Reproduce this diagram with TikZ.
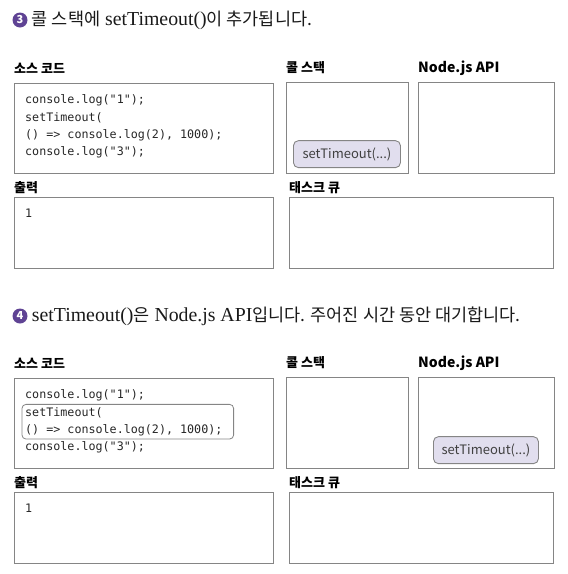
\documentclass[tikz,border=0pt]{standalone}
\usepackage{fontspec}
\usetikzlibrary{positioning}
\newfontfamily\kr{Noto Sans CJK KR}
\newfontfamily\codefont{DejaVu Sans Mono}
\newfontfamily\headserif{Liberation Serif}
\definecolor{boxgray}{HTML}{858585}
\definecolor{pillfill}{HTML}{E1DEEE}
\definecolor{numpurple}{HTML}{5F4394}
\newcommand{\kor}[1]{{\kr\fontsize{17.5}{20}\selectfont #1}}

\begin{document}
\begin{tikzpicture}[x=1pt, y=-1pt]
    \tikzstyle{panel}=[draw=boxgray, line width=1.1pt, rectangle, inner sep=0pt, anchor=north west]
    \tikzstyle{lbl}=[font=\kr\bfseries\fontsize{13}{15}\selectfont, inner sep=0pt, anchor=base west]
    \tikzstyle{lbllatin}=[lbl, font=\kr\bfseries\fontsize{14}{15}\selectfont]
    \tikzstyle{code}=[font=\codefont\fontsize{11.7}{14}\selectfont, text=black!85, inner sep=0pt, anchor=west]
    \tikzstyle{pill}=[draw=boxgray, fill=pillfill, line width=0.9pt, rounded corners=5pt, minimum height=27pt, inner sep=0pt, anchor=south west, font=\kr\fontsize{13}{15}\selectfont, text=black!75]
    \tikzstyle{num}=[circle, fill=numpurple, text=white, inner sep=0pt, minimum size=15pt, font=\kr\bfseries\fontsize{11}{11}\selectfont]
    \tikzstyle{heading}=[inner sep=0pt, anchor=west, font=\headserif\fontsize{19.8}{22}\selectfont, text=black!90]
    \tikzstyle{hilite}=[draw=boxgray, line width=0.8pt, rounded corners=4pt]

    \useasboundingbox (0,0) rectangle (568,574);

    % headings
    \node[num] (num1) at (20,20) {3};
    \node[heading, right=4pt of num1] (head1) {\kor{콜 스택에} setTimeout()\kor{이 추가됩니다.}};
    \node[num] (num2) at (20,316) {4};
    \node[heading, right=4pt of num2] (head2) {setTimeout()\kor{은} Node.js API\kor{입니다. 주어진 시간 동안 대기합니다.}};

    % panels of both steps
    \foreach \s in {1,2} {
        \begin{scope}[yshift={-295pt*(\s-1)}]
            \node[panel, minimum width=259pt, minimum height=90pt] (src\s) at (14,83) {};
            \node[panel, minimum width=122pt, minimum height=91pt] (stack\s) at (286,82) {};
            \node[panel, minimum width=136pt, minimum height=91pt] (api\s) at (418,82) {};
            \node[panel, minimum width=259pt, minimum height=71pt] (out\s) at (14,197) {};
            \node[panel, minimum width=264pt, minimum height=71pt] (queue\s) at (289,197) {};

            \node[lbl] (srclbl\s) at ([yshift=10pt]src\s.north west) {소스 코드};
            \node[lbl] (stacklbl\s) at ([yshift=10pt]stack\s.north west) {콜 스택};
            \node[lbllatin] (apilbl\s) at ([yshift=10pt]api\s.north west) {Node.js API};
            \node[lbl] (outlbl\s) at ([yshift=5pt]out\s.north west) {출력};
            \node[lbl] (queuelbl\s) at ([yshift=5pt]queue\s.north west) {태스크 큐};

            \foreach \i/\txt in {1/{console.log(\textquotedbl 1\textquotedbl);},
                                 2/{setTimeout(},
                                 3/{() => console.log(2), 1000);},
                                 4/{console.log(\textquotedbl 3\textquotedbl);}}
                \node[code] (c\s-\i) at (25, 83.2+17.3*\i) {\txt};

            \node[code] (res\s) at (25,213) {1};
        \end{scope}
    }

    % step 3: call stack
    \node[pill, minimum width=107pt] (pill1) at ([xshift=7pt, yshift=6pt]stack1.south west) {setTimeout(...)};

    % step 4: Node.js API
    \draw[hilite] ([shift={(-3pt,3pt)}]c2-2.north west) rectangle ([shift={(11pt,-3pt)}]c2-3.south east);
    \node[pill, minimum width=105pt] (pill2) at ([xshift=15pt, yshift=5pt]api2.south west) {setTimeout(...)};
\end{tikzpicture}
\end{document}
